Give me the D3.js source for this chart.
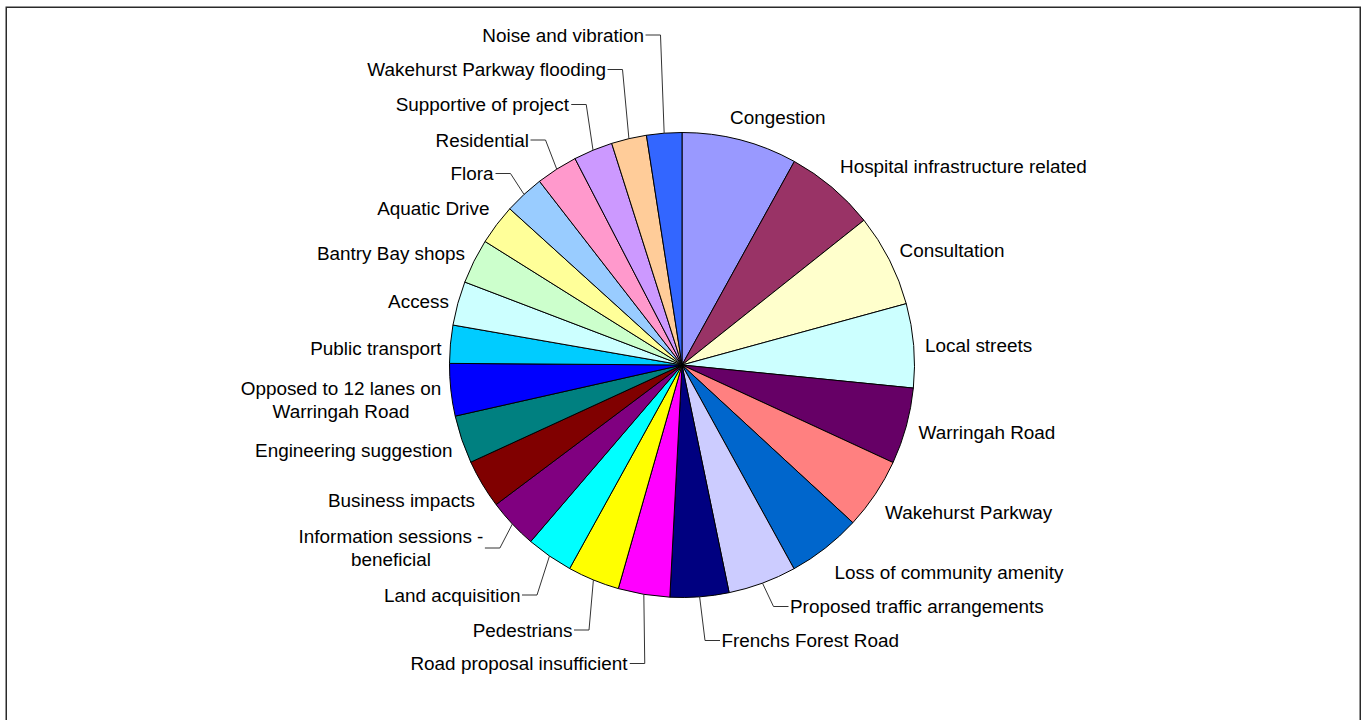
<!DOCTYPE html>
<html>
<head>
<meta charset="utf-8">
<script src="https://cdn.jsdelivr.net/npm/d3@7"></script>
<style>
  html, body { margin: 0; padding: 0; background: #fff; }
  svg { display: block; }
  text { font-family: "Liberation Sans", Arial, sans-serif; font-size: 18.9px; fill: #000; }
</style>
</head>
<body>
<script>
// ---- Data ----
const categories = [
  "Congestion", "Hospital infrastructure related", "Consultation", "Local streets",
  "Warringah Road", "Wakehurst Parkway", "Loss of community amenity",
  "Proposed traffic arrangements", "Frenchs Forest Road", "Road proposal insufficient",
  "Pedestrians", "Land acquisition", "Information sessions - beneficial",
  "Business impacts", "Engineering suggestion", "Opposed to 12 lanes on Warringah Road",
  "Public transport", "Access", "Bantry Bay shops", "Aquatic Drive", "Flora",
  "Residential", "Supportive of project", "Wakehurst Parkway flooding", "Noise and vibration"
];
// values (degrees of the pie)
const values = [
  28.9, 22.6, 23.2, 21.0, 19.1, 17.9, 18.5, 17.1, 14.7, 12.9,
  13.0, 11.7, 12.5, 12.2, 12.0, 13.1, 9.5, 11.0, 11.2, 10.1,
  10.0, 10.4, 9.8, 8.8, 8.8
];
const colors = [
  "#9999FF", "#993366", "#FFFFCC", "#CCFFFF", "#660066", "#FF8080", "#0066CC",
  "#CCCCFF", "#000080", "#FF00FF", "#FFFF00", "#00FFFF", "#800080", "#800000",
  "#008080", "#0000FF", "#00CCFF", "#CCFFFF", "#CCFFCC", "#FFFF99", "#99CCFF",
  "#FF99CC", "#CC99FF", "#FFCC99", "#3366FF"
];

// ---- Label layout (x, vertical centre, anchor, leader line, words on first line) ----
const labelLayout = [
  { x: 730,   y: 117.5, a: "start" },
  { x: 840,   y: 166,   a: "start" },
  { x: 899.5, y: 250,   a: "start" },
  { x: 925,   y: 345,   a: "start" },
  { x: 918.5, y: 432,   a: "start" },
  { x: 885,   y: 512,   a: "start" },
  { x: 834.5, y: 572.5, a: "start" },
  { x: 790,   y: 606.5, a: "start", leader: true },
  { x: 721.5, y: 640.5, a: "start", leader: true },
  { x: 627.5, y: 663.5, a: "end",   leader: true },
  { x: 572.5, y: 630,   a: "end",   leader: true },
  { x: 520.5, y: 595,   a: "end",   leader: true },
  { x: 391,   y: 548,   a: "middle", leader: true, wrap: 3 },
  { x: 475,   y: 500.5, a: "end" },
  { x: 452.5, y: 450,   a: "end" },
  { x: 341,   y: 400,   a: "middle", wrap: 5 },
  { x: 441.5, y: 348.5, a: "end" },
  { x: 449,   y: 301,   a: "end" },
  { x: 465,   y: 253.5, a: "end" },
  { x: 489.5, y: 208.5, a: "end" },
  { x: 493.5, y: 173.5, a: "end",   leader: true },
  { x: 529,   y: 140,   a: "end",   leader: true },
  { x: 569,   y: 104.5, a: "end",   leader: true },
  { x: 606,   y: 69.5,  a: "end",   leader: true },
  { x: 644,   y: 35,    a: "end",   leader: true }
];

// ---- Drawing ----
const W = 1368, H = 720;
const cx = 682, cy = 365, R = 232.5;
const lineH = 23.3;

const svg = d3.select("body").append("svg").attr("width", W).attr("height", H);

svg.append("rect")
  .attr("x", 6.25).attr("y", 7.25)
  .attr("width", 1354).attr("height", 760)
  .attr("fill", "#fff").attr("stroke", "#2a2a2a").attr("stroke-width", 1.5);

const pieData = d3.pie().sort(null).value(d => d)(values);
const arc = d3.arc().innerRadius(0).outerRadius(R);
const rimArc = d3.arc().innerRadius(R).outerRadius(R);

const g = svg.append("g").attr("transform", `translate(${cx},${cy})`);
g.selectAll("path.slice")
  .data(pieData)
  .join("path")
  .attr("class", "slice")
  .attr("d", arc)
  .attr("fill", (d, i) => colors[i])
  .attr("stroke", "#000")
  .attr("stroke-width", 1)
  .attr("stroke-linejoin", "round");

const labels = svg.append("g");
const leaders = svg.append("g");

pieData.forEach((d, i) => {
  const L = labelLayout[i];
  const words = categories[i].split(" ");
  const lines = L.wrap ? [words.slice(0, L.wrap).join(" "), words.slice(L.wrap).join(" ")] : [categories[i]];
  const t = labels.append("text").attr("text-anchor", L.a);
  const y0 = L.y - (lines.length - 1) * lineH / 2;
  lines.forEach((s, k) => {
    t.append("tspan").attr("x", L.x).attr("y", y0 + k * lineH).attr("dy", "0.35em").text(s);
  });
  if (L.leader) {
    const bb = t.node().getBBox();
    const [ax, ay] = rimArc.centroid(d);
    let x0, x1;
    if (L.a === "start") { x0 = bb.x - 1.5; x1 = x0 - 15; }
    else { x0 = bb.x + bb.width + 1.5; x1 = x0 + 15; }
    const yc = L.y;
    leaders.append("polyline")
      .attr("points", [[x0, yc], [x1, yc], [cx + ax, cy + ay]].map(p => p.join(",")).join(" "))
      .attr("fill", "none")
      .attr("stroke", "#333")
      .attr("stroke-width", 1);
  }
});
</script>
</body>
</html>
